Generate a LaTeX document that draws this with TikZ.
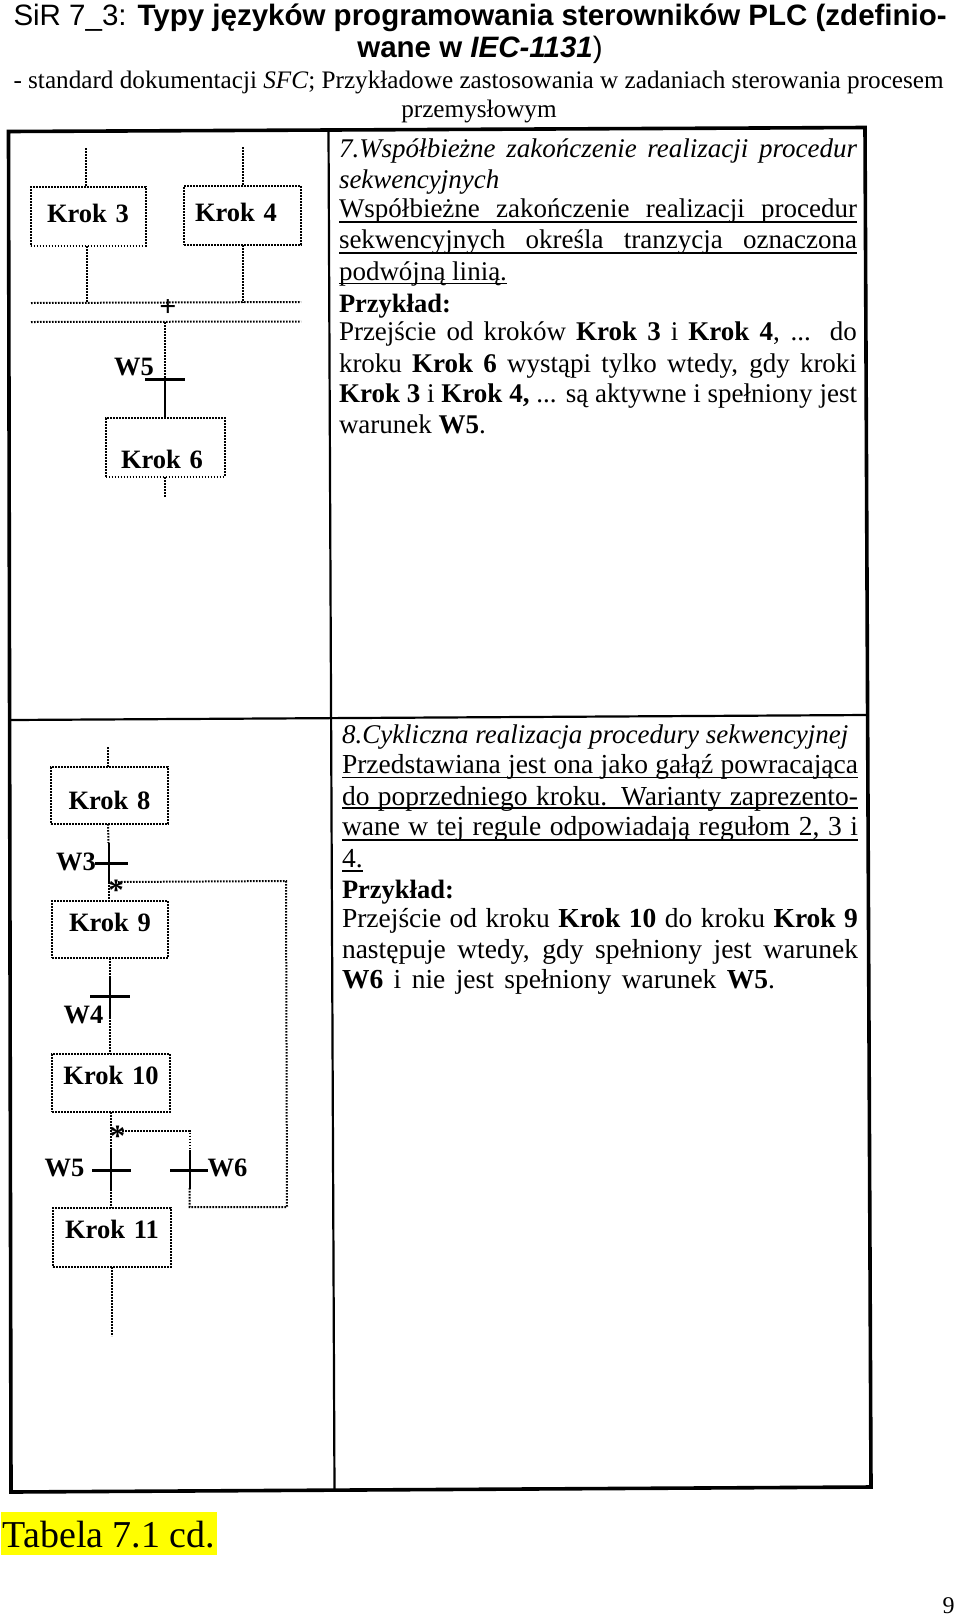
\documentclass[tikz,border=0pt]{standalone}
\usepackage{fontspec}
\setmainfont{Liberation Serif}
\newfontfamily\headsans{Liberation Sans}
\definecolor{markyellow}{RGB}{255,255,0}
\newcommand{\fs}[1]{\fontsize{#1}{#1}\selectfont}
\newcommand{\just}[2]{\makebox[#1pt][s]{#2}}
\tikzset{
  every node/.style={inner sep=0pt,outer sep=0pt},
  sfc/.style={line width=2pt,dash pattern=on 1.7pt off 1.3pt},
  rule7/.style={line width=1.8pt},
  frameline/.style={line width=3.6pt,line join=miter},
  gridline/.style={line width=2.2pt},
  stepbox/.style={draw,sfc,font=\fs{26.5}\bfseries,align=center},
  bar/.style={fill=black,minimum height=3pt},
  barstem/.style={line width=2pt},
  cond/.style={font=\fs{26.5}\bfseries,anchor=base},
  bodytext/.style={font=\fs{27},anchor=base west},
  bodyeight/.style={font=\fs{27.5},anchor=base west},
  exhead/.style={font=\fs{26.5}\bfseries,anchor=base west},
  heading/.style={font=\fs{29.5}\headsans,anchor=base},
  subhead/.style={font=\fs{25.2},anchor=base},
}
\begin{document}
\begin{tikzpicture}[x=1pt,y=-1pt]
\useasboundingbox (0,0) rectangle (960,1618);
\fill[white] (0,0) rectangle (960,1618);
% ---- header
\node[heading,anchor=base west] (h1) at (13.5,25) {SiR 7\_3: \textbf{Typy języków programowania sterowników PLC (zdefinio-}};
\node[heading] (h2) at (480,57) {\textbf{wane w \textit{IEC-1131}})};
\node[subhead,anchor=base west] (h3) at (13.5,88) {- standard dokumentacji \textit{SFC}; Przykładowe zastosowania w zadaniach sterowania procesem};
\node[subhead] (h4) at (479,117) {przemysłowym};
% ---- table frame
\coordinate (tl) at (8.5,131.5);
\coordinate (tr) at (865,127.5);
\coordinate (br) at (871,1487);
\coordinate (bl) at (11,1492);
\coordinate (ml) at (10,720);
\coordinate (mr) at (867.5,715);
\coordinate (dt) at (328.5,130);
\coordinate (db) at (334.5,1491);
\draw[gridline] (dt) -- (db);
\draw[gridline] (ml) -- (mr);
\draw[frameline] (tl) -- (tr) -- (br) -- (bl) -- cycle;
% ---- section 7, diagram
\node[stepbox,minimum width=115pt,text width=115pt,text height=35pt,text depth=24pt] (k3) at (88,216.5) {Krok 3};
\node[stepbox,minimum width=117pt,text width=117pt,text height=35pt,text depth=24pt] (k4) at (242.5,215.5) {\hspace*{-13pt}Krok 4};
\node[stepbox,minimum width=119pt,text width=119pt,text height=50pt,text depth=9pt] (k6) at (165,447.5) {\hspace*{-6pt}Krok 6};
\coordinate (k3top) at (85.5,148);
\coordinate (k4top) at (242.5,147);
\coordinate (dla) at (31,303);
\coordinate (dlb) at (301,302);
\coordinate (dlc) at (31,322);
\coordinate (dld) at (301,321.5);
\coordinate (w5top) at (165,322);
\coordinate (k6out) at (165,497);
\draw[sfc] (k3top) -- (k3.north -| k3top);
\draw[sfc] (k4top) -- (k4.north -| k4top);
\draw[sfc] (k3.south -| 86.5,0) -- (86.5,303);
\draw[sfc] (k4.south) -- (242.5,302.5);
\draw[sfc] (dla) -- (dlb);
\draw[sfc] (dlc) -- (dld);
\node[font=\fs{30}\bfseries,anchor=base] (plus) at (168,316) {+};
\node[bar,minimum width=40pt] (t5) at (165,379) {};
\draw[line width=1.2pt,dash pattern=on 2pt off 1pt] (w5top) -- (t5.center);
\draw[line width=1.4pt] (t5.center) -- (k6.north);
\draw[sfc] (k6.south) -- (k6out);
\node[cond] (w5a) at (134,375) {W5};
% ---- section 7, text
\node[bodytext] (a1) at (339,157) {\just{518}{\itshape 7.Współbieżne zakończenie realizacji procedur}};
\node[bodytext] (a2) at (339,188) {\itshape sekwencyjnych};
\node[bodytext] (a3) at (339,217) {\just{518}{Współbieżne zakończenie realizacji procedur}};
\node[bodytext] (a4) at (339,248) {\just{518}{sekwencyjnych określa tranzycja oznaczona}};
\node[bodytext] (a5) at (339,280) {podwójną linią.};
\node[exhead] (a6) at (339,312) {Przykład:};
\node[bodytext] (a7) at (339,340) {\just{518}{Przejście od kroków \textbf{Krok 3} i \textbf{Krok 4}, ... do}};
\node[bodytext] (a8) at (339,372) {\just{518}{kroku \textbf{Krok 6} wystąpi tylko wtedy, gdy kroki}};
\node[bodytext] (a9) at (339,402) {\just{518}{\textbf{Krok 3} i \textbf{Krok 4,} ... są aktywne i spełniony jest}};
\node[bodytext] (a10) at (339,433) {warunek \textbf{W5}.};
\draw[rule7] ([yshift=-5pt]a3.base west) -- ([yshift=-5pt]a3.base east);
\draw[rule7] ([yshift=-5pt]a4.base west) -- ([yshift=-5pt]a4.base east);
\draw[rule7] ([yshift=-3.5pt]a5.base west) -- ([yshift=-3.5pt]a5.base east);
% ---- section 8, diagram
\node[stepbox,minimum width=117pt,text width=117pt,text height=42pt,text depth=15pt] (k8) at (109.5,795.5) {Krok 8};
\node[stepbox,minimum width=116pt,text width=116pt,text height=30pt,text depth=27pt] (k9) at (110,929.5) {Krok 9};
\node[stepbox,minimum width=118pt,text width=118pt,text height=30pt,text depth=28pt] (k10) at (111,1083) {Krok 10};
\node[stepbox,minimum width=118pt,text width=118pt,text height=30pt,text depth=29pt] (k11) at (112,1237.5) {Krok 11};
\coordinate (k8top) at (108,747);
\coordinate (k11out) at (111.5,1336);
\coordinate (loopa) at (118,882);
\coordinate (loopb) at (286,881);
\coordinate (loopc) at (287,1207);
\coordinate (loopd) at (189.5,1207);
\coordinate (brna) at (122,1131);
\coordinate (brnb) at (189.5,1131);
\node[bar,minimum width=33pt] (t3) at (111.5,863) {};
\node[bar,minimum width=40pt] (t4) at (110,996) {};
\node[bar,minimum width=39pt] (t55) at (111.5,1170) {};
\node[bar,minimum width=38pt] (t6) at (189,1170) {};
\draw[sfc] (k8top) -- (k8.north -| k8top);
\draw[sfc] (k8.south -| 108,0) -- (108.5,843);
\draw[barstem] ([xshift=-3pt,yshift=20pt]t3.center) -- ([xshift=-3pt,yshift=-19pt]t3.center);
\draw[sfc] ([xshift=-3pt,yshift=-19pt]t3.center) -- (k9.north -| 108.5,0);
\draw[sfc] (loopa) -- (loopb) -- (loopc) -- (loopd) -- ([yshift=-18pt]t6.center -| loopd);
\draw[sfc] (k9.south -| 109.5,0) -- (109.5,977);
\draw[barstem] ([xshift=-0.5pt,yshift=19pt]t4.center) -- ([xshift=-0.5pt,yshift=-21pt]t4.center);
\draw[sfc] ([xshift=0pt,yshift=-21pt]t4.center) -- (k10.north -| 110,0);
\draw[sfc] (k10.south -| 110.5,0) -- (110.5,1150);
\draw[barstem] ([xshift=-0.5pt,yshift=20pt]t55.center) -- ([xshift=-0.5pt,yshift=-19pt]t55.center);
\draw[sfc] ([xshift=-0.5pt,yshift=-19pt]t55.center) -- (k11.north -| 111,0);
\draw[sfc] (k11.south -| 111.5,0) -- (k11out);
\draw[sfc] (brna) -- (brnb) -- ([yshift=20pt]t6.center -| brnb);
\draw[barstem] ([yshift=20pt]t6.center -| brnb) -- ([yshift=-19pt]t6.center -| brnb);
\node[font=\fs{31}\bfseries,anchor=base] (st1) at (116,900) {*};
\node[font=\fs{31}\bfseries,anchor=base] (st2) at (117.5,1146) {*};
\node[cond] (w3) at (76,870) {W3};
\node[cond] (w4) at (83.5,1023) {W4};
\node[cond] (w5b) at (64.5,1176) {W5};
\node[cond] (w6) at (227.5,1176) {W6};
% ---- section 8, text
\node[font=\fs{27},anchor=base west] (b1) at (342,743) {\itshape 8.Cykliczna realizacja procedury sekwencyjnej};
\node[bodyeight] (b2) at (342,773) {\just{516}{Przedstawiana jest ona jako gałąź powracająca}};
\node[bodyeight] (b3) at (342,805) {\just{516}{do poprzedniego kroku. Warianty zaprezento-}};
\node[bodyeight] (b4) at (342,835) {\just{516}{wane w tej regule odpowiadają regułom 2, 3 i}};
\node[bodyeight] (b5) at (342,867) {4.};
\node[exhead] (b6) at (342,898) {Przykład:};
\node[bodyeight] (b7) at (342,927) {\just{516}{Przejście od kroku \textbf{Krok 10} do kroku \textbf{Krok 9}}};
\node[bodyeight] (b8) at (342,958) {\just{516}{następuje wtedy, gdy spełniony jest warunek}};
\node[bodyeight] (b9) at (342,988) {\just{433}{\textbf{W6} i nie jest spełniony warunek \textbf{W5}.}};
\draw[rule7] ([yshift=-4.5pt]b2.base west) -- ([yshift=-4.5pt]b2.base east);
\draw[rule7] ([yshift=-3pt]b3.base west) -- ([yshift=-3pt]b3.base east);
\draw[rule7] ([yshift=-5pt]b4.base west) -- ([yshift=-5pt]b4.base east);
\draw[rule7] ([yshift=-4pt]b5.base west) -- ([yshift=-4pt]b5.base east);
% ---- foot
\node[fill=markyellow,minimum width=216pt,minimum height=43pt,anchor=north west] (tab) at (1,1512) {};
\node[font=\fs{38},anchor=base] (tabt) at (109,1547) {Tabela 7.1 cd.};
\node[font=\fs{24},anchor=base] (pg) at (948.5,1613) {9};
\end{tikzpicture}
\end{document}
